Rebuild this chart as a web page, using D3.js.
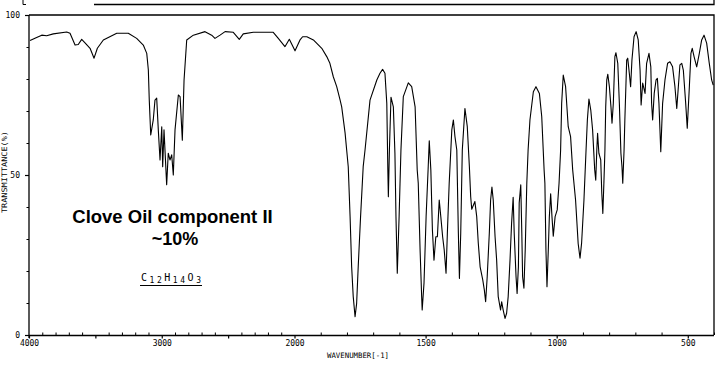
<!DOCTYPE html>
<html><head><meta charset="utf-8">
<script src="https://cdn.jsdelivr.net/npm/d3@7/dist/d3.min.js"></script>
<style>
html,body{margin:0;padding:0;background:#fff;}
svg{display:block;}
.ax text{font-family:"DejaVu Sans Mono",monospace;font-size:8px;fill:#000;}
</style></head>
<body>
<script>
// ---- data (wavenumber cm-1, transmittance %) ----
const wavenumbers = [3992,3955,3904,3867,3817,3716,3691,3653,3629,3603,3578,3540,3510,3485,3440,3339,3252,3189,3139,3113,3101,3094,3083,3064,3051,3038,3026,3013,3000,2993,2983,2963,2951,2938,2925,2913,2900,2875,2862,2845,2832,2812,2762,2674,2624,2599,2561,2523,2461,2416,2386,2310,2160,2122,2072,2039,1998,
1979,1969,1953,1928,1896,1877,1865,1852,1839,1826,1820,1807,1801,1795,1788,1782,1776,1769,1763,1757,1748,1738,1731,1712,1686,1674,1664,1655,1648,1644,1642,1638,1632,1623,1617,1613,1608,1601,1594,1585,1566,1553,1540,1532,1528,1521,1515,1513,1506,1498,1490,1486,1480,1474,1468,1461,1455,1448,1442,1435,1429,1422,1417,1410,1400,1394,1388,1381,1375,1371,1366,1360,1350,1341,1333,1328,1324,1312,1305,1299,1292,1282,1276,1271,1265,1257,1252,1247,1242,1235,1229,1223,1214,1210,1204,1197,1191,1185,1178,1172,1166,1162,1155,1151,1146,1143,1137,1133,1130,1125,1120,1114,1109,1102,1089,1079,1066,1057,1048,1045,1041,1037,1032,1028,1023,1018,1013,1006,998,991,985,981,975,966,956,947,939,928,918,911,905,896,888,883,877,870,863,855,851,847,844,839,832,828,824,820,816,813,809,805,799,793,789,784,778,774,767,761,755,751,748,743,740,733,729,723,718,713,705,697,689,682,678,672,666,663,657,648,641,638,634,628,621,616,610,603,596,587,577,568,558,549,542,536,530,523,517,508,502,494,488,483,476,466,456,447,438,428,418,409,403];
const transmittance = [92.0,92.7,93.7,93.5,94.1,94.7,94.3,90.6,90.8,92.4,91.3,89.6,86.5,89.6,92.2,94.3,94.3,92.7,90.6,88.0,82.8,73.4,62.5,67.2,73.4,74.0,64.1,54.7,65.1,52.6,64.1,47.0,56.8,54.7,56.3,50.0,64.1,75.0,74.5,60.9,79.7,92.2,93.7,94.8,93.7,92.7,93.7,94.8,94.6,92.4,94.1,94.6,94.6,92.7,90.1,92.4,88.8,
92.2,93.2,93.2,92.2,89.6,87.0,84.9,80.7,77.6,73.4,71.3,63.1,57.8,52.6,37.0,21.3,12.0,5.7,9.9,21.3,37.0,52.6,57.8,73.4,79.7,81.8,83.0,81.8,72.4,51.6,43.2,57.8,74.3,71.3,56.9,37.0,19.3,37.0,57.8,74.5,78.8,77.6,71.3,51.6,47.4,26.6,12.0,7.8,16.3,37.0,52.6,60.7,51.6,32.8,23.4,30.7,30.7,42.2,37.0,30.7,26.6,19.3,31.8,47.4,64.1,67.2,62.0,57.8,31.8,17.7,31.8,57.8,70.8,65.1,52.6,43.2,39.3,41.7,37.0,28.7,21.3,17.2,14.1,10.4,18.2,31.8,42.2,46.2,42.2,30.7,23.4,12.0,7.8,10.4,7.8,5.2,6.8,12.0,23.4,34.9,43.0,31.8,18.2,13.0,21.3,41.3,46.9,31.8,18.2,14.6,26.6,47.4,57.8,67.2,76.0,77.6,75.5,68.2,51.6,47.4,26.6,15.1,26.6,37.0,44.1,37.0,30.9,37.0,39.1,47.4,57.8,72.4,81.2,77.6,65.1,62.0,51.6,42.2,28.5,24.0,28.7,42.2,57.8,67.2,73.7,70.3,64.1,51.6,48.4,57.8,63.0,56.8,54.7,44.3,38.0,47.4,57.8,71.3,79.7,81.5,77.6,71.3,66.2,72.4,87.0,88.2,84.9,72.4,56.8,52.6,47.4,57.8,67.2,85.9,86.5,81.8,77.6,85.9,93.2,94.8,92.2,82.8,71.9,78.7,76.6,75.5,84.9,88.0,83.8,72.4,67.2,75.5,79.7,80.2,72.4,57.3,72.4,79.7,84.9,85.4,83.8,77.6,70.8,77.6,84.4,84.9,82.8,72.4,64.6,77.6,88.0,89.6,87.0,83.8,88.0,92.2,93.7,91.2,84.9,79.7,78.1];

const xMajorTicks = [4000,3500,3000,2500,2000,1500,1000,500];
const xTickLabels = {4000:"4000",3000:"3000",2000:"2000",1500:"1500",1000:"1000",500:"500"};
const yMinorTicks = [0,10,20,30,40,50,60,70,80,90,100];
const yMajorTicks = [0,50,100];
const titleLines = ["Clove Oil component II","~10%"];
const formulaParts = [["C",""],["12","sub"],["H",""],["14","sub"],["O",""],["3","sub"]];
const xAxisTitle = "WAVENUMBER[-1]";
const yAxisTitle = "TRANSMITTANCE(%)";

// ---- layout ----
const W = 715, H = 369;
const L = 29, R = 714, T = 15, B = 335;

const svg = d3.select("body").append("svg").attr("width", W).attr("height", H);

const x = d3.scaleLinear().domain([4000, 2000, 400]).range([L, 294.5, R]);
const y = d3.scaleLinear().domain([0, 100]).range([B, T]);

// top decoration
svg.append("path").attr("d", `M23,0 V4.5 H26`).attr("fill","none").attr("stroke","#000").attr("stroke-width",1);
svg.append("path").attr("d", `M94,4.5 H${R} V0`).attr("fill","none").attr("stroke","#000").attr("stroke-width",1.3);

// frame (top + right)
svg.append("path").attr("d", `M${L},${T} H${R} V${B}`).attr("fill","none").attr("stroke","#000").attr("stroke-width",1.3);

// x axis minor ticks (every 100, pointing inward)
const xMinor = d3.range(4000, 399, -100).filter(d => d % 500 !== 0);
svg.append("g").attr("class","ax").attr("transform",`translate(0,${B})`)
  .call(d3.axisBottom(x).tickValues(xMinor).tickSize(-2.5).tickSizeOuter(0).tickFormat(""))
  .call(g => g.select(".domain").remove())
  .call(g => g.selectAll("line").attr("stroke","#000").attr("stroke-width",1));

// x axis major ticks with labels
svg.append("g").attr("class","ax").attr("transform",`translate(0,${B})`)
  .call(d3.axisBottom(x).tickValues(xMajorTicks).tickSize(3.5).tickSizeOuter(0).tickPadding(2).tickFormat(d => xTickLabels[d] || ""))
  .call(g => g.select(".domain").attr("d", `M${L},0.5H${R}`).attr("stroke","#000").attr("stroke-width",1.3))
  .call(g => g.selectAll("line").attr("stroke","#000").attr("stroke-width",1.2));

// y axis
svg.append("g").attr("class","ax").attr("transform",`translate(${L},0)`)
  .call(d3.axisLeft(y).tickValues(yMinorTicks).tickSize(2.5).tickSizeOuter(0).tickFormat(""))
  .call(g => g.select(".domain").attr("d", `M0,${T}V${B+3}`).attr("stroke","#000").attr("stroke-width",1.3))
  .call(g => g.selectAll("line").attr("stroke","#000").attr("stroke-width",1));
svg.append("g").attr("class","ax").attr("transform",`translate(${L},0)`)
  .call(d3.axisLeft(y).tickValues(yMajorTicks).tickSize(4).tickSizeOuter(0).tickPadding(5).tickFormat(d3.format("d")))
  .call(g => g.select(".domain").remove())
  .call(g => g.selectAll("line").attr("stroke","#000").attr("stroke-width",1.2));

// axis titles
svg.append("text").attr("x", 358).attr("y", 358).attr("text-anchor","middle")
  .attr("font-family","DejaVu Sans Mono, monospace").attr("font-size",7.5)
  .attr("textLength", 62).attr("lengthAdjust","spacingAndGlyphs").text(xAxisTitle);
svg.append("text").attr("transform","translate(7,172) rotate(-90)").attr("text-anchor","middle")
  .attr("font-family","DejaVu Sans Mono, monospace").attr("font-size",7.5)
  .attr("textLength", 82).attr("lengthAdjust","spacingAndGlyphs").text(yAxisTitle);

// spectrum
const pts = wavenumbers.map((w,i) => [w, transmittance[i]]);
const line = d3.line().x(d => x(d[0])).y(d => y(d[1]));
svg.append("path").datum(pts).attr("d", line).attr("fill","none").attr("stroke","#000").attr("stroke-width",1.1).attr("stroke-linejoin","round");

// annotation
svg.append("text").attr("x",172.5).attr("y",223).attr("text-anchor","middle")
  .attr("font-family","Liberation Sans, Arial, sans-serif").attr("font-weight","bold").attr("font-size",18.5)
  .text(titleLines[0]);
svg.append("text").attr("x",175).attr("y",245).attr("text-anchor","middle")
  .attr("font-family","Liberation Sans, Arial, sans-serif").attr("font-weight","bold").attr("font-size",18)
  .text(titleLines[1]);

const f = svg.append("text").attr("x",141).attr("y",281)
  .attr("font-family","DejaVu Sans Mono, monospace").attr("font-size",10);
formulaParts.forEach(([t,k], i) => {
  const prev = i>0 ? formulaParts[i-1][1] : "";
  let dy = 0;
  if (k==="sub" && prev!=="sub") dy = 2;
  if (k!=="sub" && prev==="sub") dy = -2;
  f.append("tspan").attr("dy", dy).attr("font-size", k==="sub" ? 8 : 10).text(t);
});
f.attr("textLength",60).attr("lengthAdjust","spacing");
svg.append("line").attr("x1",140).attr("x2",202).attr("y1",285.5).attr("y2",285.5).attr("stroke","#000").attr("stroke-width",1);
</script>
</body></html>
